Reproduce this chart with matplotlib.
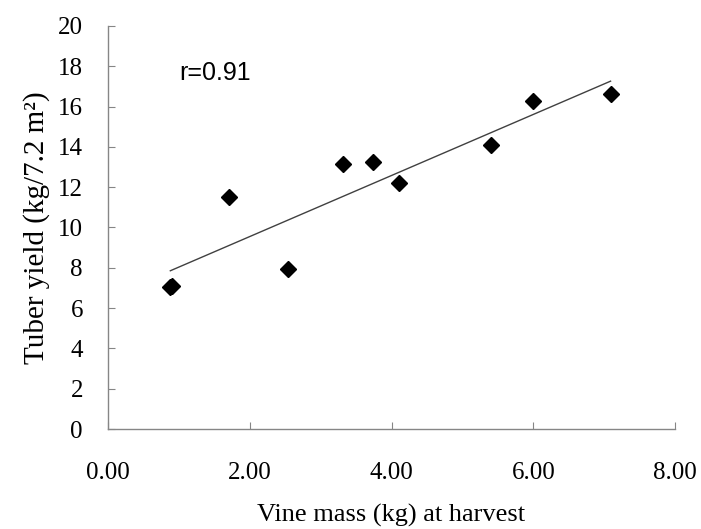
import matplotlib.pyplot as plt
import numpy as np

# vine mass (kg) and tuber yield (kg/7.2 m2)
# (the first marker is two points lying almost on top of each other)
vine_mass = [0.88, 0.91, 1.71, 2.54, 3.31, 3.74, 4.10, 5.40, 6.00, 7.09]
tuber_yield = [7.06, 7.12, 11.53, 7.94, 13.15, 13.24, 12.19, 14.09, 16.29, 16.63]
x_ticks = [0, 2, 4, 6, 8]
y_ticks = list(range(0, 21, 2))

serif = 'Liberation Serif'
grey = '#868686'

fig = plt.figure(figsize=(7.01, 5.29), dpi=100)
ax = fig.add_axes([0.154, 0.189, 0.809, 0.762])

ax.plot(vine_mass, tuber_yield, 'D', color='black', ms=8, zorder=3)

# linear trend line across the data range
coef = np.polyfit(vine_mass, tuber_yield, 1)
xs = np.array([min(vine_mass), max(vine_mass)])
ax.plot(xs, np.polyval(coef, xs), color='#404040', lw=1)

ax.text(1.01, 17.67, 'r=0.91', fontsize=18, family='Liberation Sans', va='center')

ax.set_xlim(0, 8)
ax.set_ylim(0, 20)
ax.set_xticks(x_ticks)
ax.set_xticklabels(['%.2f' % v for v in x_ticks])
ax.set_yticks(y_ticks)

for s in ['top', 'right']:
    ax.spines[s].set_visible(False)
for s in ['left', 'bottom']:
    ax.spines[s].set_color(grey)
    ax.spines[s].set_linewidth(1)

ax.tick_params(axis='both', direction='in', length=5, color=grey, labelsize=18)
ax.tick_params(axis='x', pad=24)
ax.tick_params(axis='y', pad=18)
for lab in ax.get_xticklabels() + ax.get_yticklabels():
    lab.set_family(serif)

ax.set_xlabel('Vine mass (kg) at harvest', family=serif, fontsize=19, labelpad=14)
ax.set_ylabel('Tuber yield (kg/7.2 m\u00b2)', family=serif, fontsize=21, labelpad=6)

fig.savefig('out.png', dpi=100)
